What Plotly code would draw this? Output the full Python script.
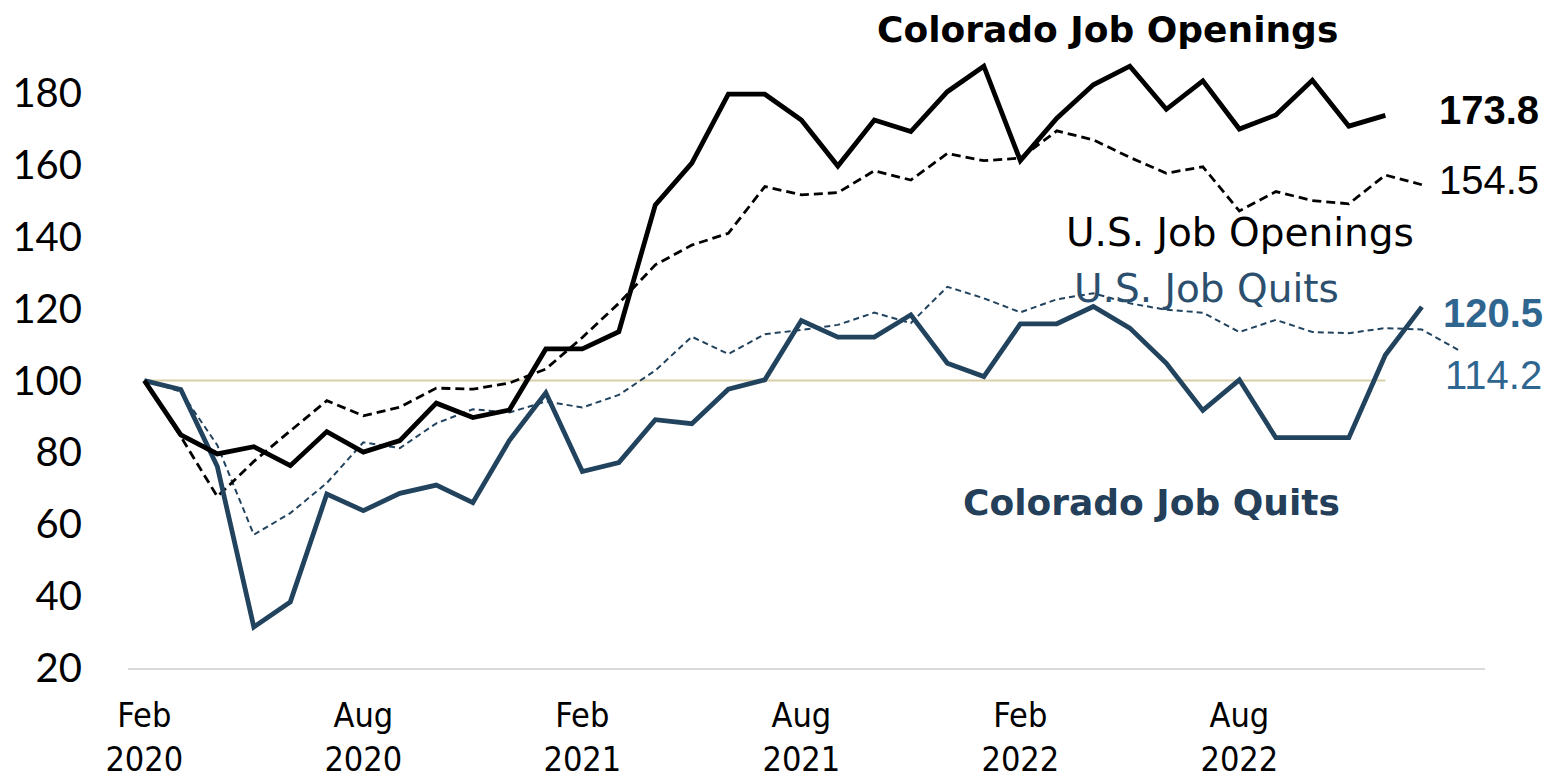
import plotly.graph_objects as go

MONTHS = [
    "2020-02", "2020-03", "2020-04", "2020-05", "2020-06", "2020-07", "2020-08",
    "2020-09", "2020-10", "2020-11", "2020-12", "2021-01", "2021-02", "2021-03",
    "2021-04", "2021-05", "2021-06", "2021-07", "2021-08", "2021-09", "2021-10",
    "2021-11", "2021-12", "2022-01", "2022-02", "2022-03", "2022-04", "2022-05",
    "2022-06", "2022-07", "2022-08", "2022-09", "2022-10", "2022-11", "2022-12",
    "2023-01", "2023-02",
]

CO_OPENINGS = [100, 84.9, 79.6, 81.6, 76.3, 85.8, 80.1, 83.3, 93.7, 89.7, 91.8, 108.8,
               108.8, 113.6, 148.9, 160.5, 179.7, 179.7, 172.5, 159.7, 172.5, 169.3,
               180.4, 187.5, 161.2, 173.0, 182.3, 187.5, 175.5, 183.4, 170.0, 173.9,
               183.6, 170.8, 173.8]
US_OPENINGS = [100, 84.4, 67.7, 77.5, 86.0, 94.4, 90.2, 92.6, 97.9, 97.6, 99.3, 103.2,
               112.0, 121.5, 132.2, 137.7, 141.0, 154.0, 151.7, 152.3, 158.4, 155.8,
               163.2, 161.2, 161.9, 169.5, 167.0, 162.1, 157.7, 159.5, 147.2, 152.6,
               150.1, 149.2, 157.2, 154.5]
CO_QUITS = [100, 97.5, 76.1, 31.4, 38.4, 68.4, 63.8, 68.6, 70.9, 66.0, 83.3, 96.6,
            74.7, 77.2, 89.1, 88.0, 97.6, 100.2, 116.7, 112.1, 112.1, 118.3, 104.8,
            101.1, 115.8, 115.8, 120.6, 114.6, 104.8, 91.7, 100.2, 84.1, 84.1, 84.1,
            107.1, 120.5]
US_QUITS = [100, 96.9, 82.0, 57.1, 63.1, 71.5, 82.8, 81.2, 88.1, 92.0, 91.1, 94.2,
            92.5, 96.0, 102.8, 112.2, 107.4, 112.9, 114.1, 115.5, 118.9, 116.0, 126.1,
            122.9, 119.0, 122.6, 124.3, 121.5, 119.7, 118.9, 113.5, 116.9, 113.5, 113.2,
            114.6, 114.2, 108.5]
BASELINE = 100
BASELINE_MONTHS = 35

TICK_MONTHS = ["2020-02", "2020-08", "2021-02", "2021-08", "2022-02", "2022-08"]
TICK_TEXT = ["Feb<br>2020", "Aug<br>2020", "Feb<br>2021", "Aug<br>2021", "Feb<br>2022", "Aug<br>2022"]
Y_TICKS = [20, 40, 60, 80, 100, 120, 140, 160, 180]

# the page's default 8px body margin is removed by a small post-script
W, H = 1557, 780
PLOT_L, PLOT_R, PLOT_T, PLOT_B = 128, 1485, 50, 668   # page pixels
ML, MR, MT, MB = PLOT_L, W - PLOT_R, PLOT_T, H - PLOT_B

BLACK = "#000000"
NAVY = "#22435E"
STEEL = "#2F6690"
FUT = "Lato, 'Open Sans', sans-serif"
GEO = "'DejaVu Sans', Lato, sans-serif"
COND = "'DejaVu Sans Condensed', 'Liberation Sans Narrow', 'Roboto Condensed', Lato, sans-serif"
ARIAL = "'Liberation Sans', Arial, sans-serif"


def px(xp, yp):
    return (xp - PLOT_L) / (PLOT_R - PLOT_L), (PLOT_B - yp) / (PLOT_B - PLOT_T)


fig = go.Figure()
fig.add_trace(go.Scatter(x=MONTHS[:BASELINE_MONTHS], y=[BASELINE] * BASELINE_MONTHS,
                         mode="lines", line=dict(color="#D9CFA6", width=2),
                         hoverinfo="skip", showlegend=False))
fig.add_trace(go.Scatter(x=MONTHS[:len(US_QUITS)], y=US_QUITS, mode="lines",
                         line=dict(color=NAVY, width=2, dash="6px,4px"), name="U.S. Job Quits"))
fig.add_trace(go.Scatter(x=MONTHS[:len(US_OPENINGS)], y=US_OPENINGS, mode="lines",
                         line=dict(color=BLACK, width=2.8, dash="9px,5px"), name="U.S. Job Openings"))
fig.add_trace(go.Scatter(x=MONTHS[:len(CO_QUITS)], y=CO_QUITS, mode="lines",
                         line=dict(color=NAVY, width=4.8), name="Colorado Job Quits"))
fig.add_trace(go.Scatter(x=MONTHS[:len(CO_OPENINGS)], y=CO_OPENINGS, mode="lines",
                         line=dict(color=BLACK, width=4.8), name="Colorado Job Openings"))

ann = [
    ("Colorado Job Openings", 1107, 30, "center", GEO, 36, BLACK, True),
    ("173.8", 1437, 110, "left", ARIAL, 40, BLACK, True),
    ("154.5", 1437, 180, "left", ARIAL, 40, BLACK, False),
    ("U.S. Job Openings", 1240, 232, "center", GEO, 39, BLACK, False),
    ("U.S. Job Quits", 1206, 288, "center", GEO, 39, "#2C4F6E", False),
    ("120.5", 1441, 313, "left", ARIAL, 40, STEEL, True),
    ("114.2", 1443, 375, "left", ARIAL, 40, STEEL, False),
    ("Colorado Job Quits", 1151, 502, "center", GEO, 36, "#243F5A", True),
]
annotations = []
for text, xp, yp, anchor, fam, size, color, bold in ann:
    xx, yy = px(xp, yp)
    annotations.append(dict(
        text=f"<b>{text}</b>" if bold else text, x=xx, y=yy, xref="paper", yref="paper",
        xanchor=anchor, yanchor="middle", showarrow=False,
        font=dict(family=fam, size=size, color=color)))

fig.update_layout(
    width=W, height=H,
    margin=dict(l=ML, r=MR, t=MT, b=MB, autoexpand=False),
    paper_bgcolor="white", plot_bgcolor="white",
    showlegend=False,
    hovermode=False,
    annotations=annotations,
    xaxis=dict(type="category", categoryorder="array", categoryarray=MONTHS,
               range=[-0.447, 36.73], tickvals=TICK_MONTHS, ticktext=TICK_TEXT,
               showgrid=False, zeroline=False, showline=True, linecolor="#D9D9D9",
               linewidth=2, ticks="", ticklabelstandoff=16, automargin=False,
               tickfont=dict(family=COND, size=34, color=BLACK)),
    yaxis=dict(range=[20, 192], tickvals=Y_TICKS, showgrid=False, zeroline=False,
               showline=False, ticks="", ticklabelstandoff=45, automargin=False,
               tickfont=dict(family=FUT, size=40, color=BLACK)),
)

fig.write_html("out.html", config={"displayModeBar": False},
               post_script="document.body.style.margin='0';document.body.style.overflow='hidden';")
